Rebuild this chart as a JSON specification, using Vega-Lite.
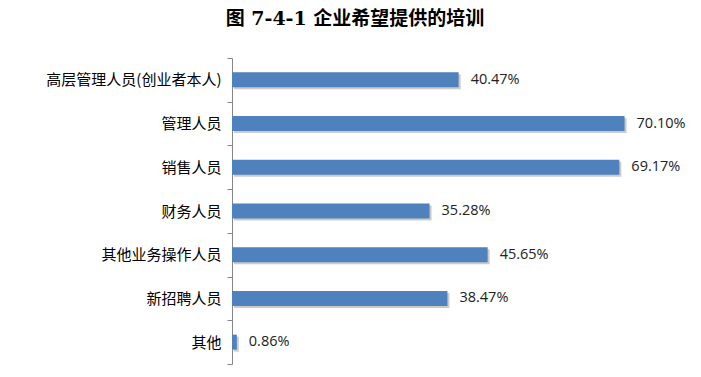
{
  "$schema": "https://vega.github.io/schema/vega-lite/v6.json",
  "width": 448,
  "height": 306,
  "autosize": "none",
  "padding": {"left": 232, "top": 58, "right": 21, "bottom": 13},
  "background": "white",
  "title": {
    "text": "图 7-4-1 企业希望提供的培训",
    "font": "DejaVu Serif, Noto Sans CJK SC",
    "fontSize": 19,
    "fontWeight": "bold",
    "color": "#000000",
    "anchor": "middle",
    "dx": -101,
    "offset": 22
  },
  "data": {
    "values": [
      {"category": "高层管理人员(创业者本人)", "value": 0.4047},
      {"category": "管理人员", "value": 0.7010},
      {"category": "销售人员", "value": 0.6917},
      {"category": "财务人员", "value": 0.3528},
      {"category": "其他业务操作人员", "value": 0.4565},
      {"category": "新招聘人员", "value": 0.3847},
      {"category": "其他", "value": 0.0086}
    ]
  },
  "encoding": {
    "y": {
      "field": "category",
      "type": "nominal",
      "sort": null,
      "scale": {"paddingInner": 0, "paddingOuter": 0},
      "axis": {
        "title": null,
        "domainColor": "#868686",
        "tickColor": "#868686",
        "tickSize": 5,
        "tickBand": "extent",
        "labelFont": "Noto Sans CJK SC",
        "labelFontSize": 15,
        "labelColor": "#000000",
        "labelPadding": 6
      }
    },
    "x": {
      "field": "value",
      "type": "quantitative",
      "scale": {"domain": [0, 0.8], "nice": false},
      "axis": null
    }
  },
  "layer": [
    {
      "mark": {"type": "bar", "size": 15, "color": "#8c8c8c", "opacity": 0.45, "xOffset": 2, "yOffset": 2}
    },
    {
      "mark": {"type": "bar", "size": 15, "color": "#4F81BD"}
    },
    {
      "mark": {"type": "text", "align": "left", "baseline": "middle", "dx": 12, "font": "Open Sans", "fontSize": 14.5, "color": "#222222"},
      "encoding": {"text": {"field": "value", "type": "quantitative", "format": ".2%"}}
    }
  ],
  "config": {"view": {"stroke": null}}
}
